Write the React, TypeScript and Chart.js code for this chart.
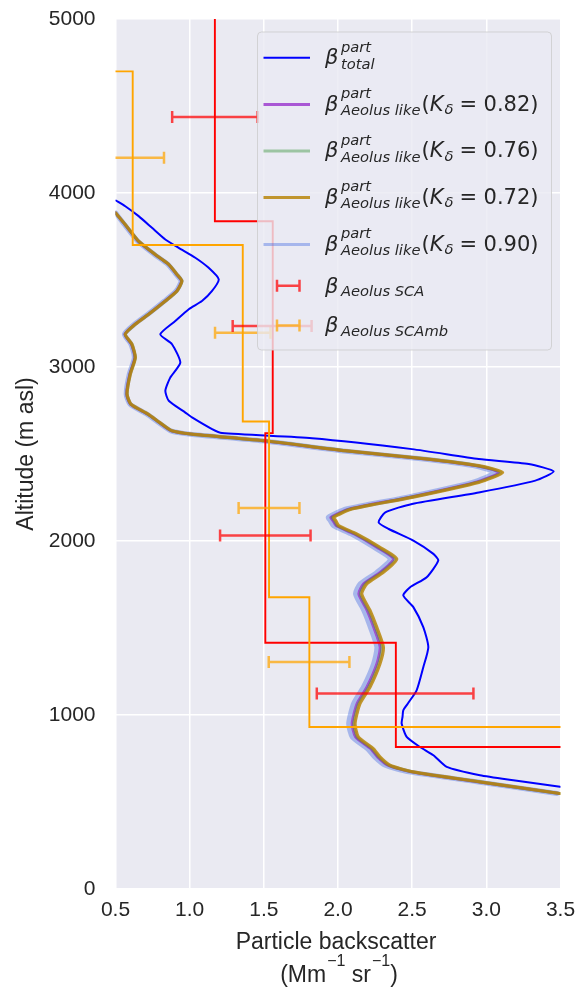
import React, { useEffect, useRef } from "react";
import { Chart, registerables } from "chart.js";

Chart.register(...registerables);

// ---------------- data ----------------
const X_TICK_LABELS = ["0.5", "1.0", "1.5", "2.0", "2.5", "3.0", "3.5"];
const Y_TICK_LABELS = ["0", "1000", "2000", "3000", "4000", "5000"];

// total particle backscatter (x) vs altitude (m asl)
const TOTAL_ALT = [
  3957, 3924, 3867, 3800, 3733, 3685, 3628, 3570, 3504, 3437, 3379, 3332, 3264, 3188, 3131, 3025, 2939, 2863,
  2806, 2738, 2710, 2643, 2620, 2591, 2528, 2471, 2442, 2400, 2347, 2279, 2213, 2165, 2107, 2069, 2002, 1926,
  1888, 1792, 1734, 1687, 1620, 1505, 1390, 1275, 1142, 1065, 1027, 989, 951, 874, 816, 769, 702, 654, 625, 587,
];
const TOTAL_BETA = [
  0.503, 0.566, 0.656, 0.746, 0.836, 0.926, 1.038, 1.128, 1.196, 1.151, 1.083, 0.994, 0.903, 0.802, 0.881, 0.937,
  0.869, 0.836, 0.859, 0.971, 1.016, 1.151, 1.218, 1.825, 2.499, 2.949, 3.286, 3.454, 3.33, 2.949, 2.499, 2.319,
  2.274, 2.342, 2.508, 2.643, 2.676, 2.598, 2.486, 2.44, 2.508, 2.575, 2.609, 2.575, 2.53, 2.47, 2.44, 2.435, 2.429,
  2.463, 2.553, 2.643, 2.733, 2.957, 3.182, 3.497,
];

// Aeolus-like profiles share one altitude grid
const AEOLUS_ALT = [
  3886, 3819, 3723, 3647, 3590, 3532, 3494, 3437, 3379, 3303, 3246, 3188, 3131, 3054, 2959, 2844, 2786, 2729, 2680,
  2633, 2614, 2576, 2519, 2471, 2433, 2394, 2337, 2251, 2184, 2136, 2117, 2088, 2041, 1964, 1897, 1820, 1754, 1696,
  1601, 1505, 1390, 1295, 1161, 1065, 951, 874, 807, 759, 711, 673, 616, 549,
];
const AEOLUS_K082 = [
  0.5, 0.563, 0.653, 0.765, 0.856, 0.912, 0.945, 0.912, 0.833, 0.721, 0.631, 0.563, 0.607, 0.63, 0.596, 0.575, 0.601,
  0.716, 0.796, 0.877, 1.01, 1.5, 2.035, 2.592, 2.928, 3.085, 2.925, 2.478, 2.074, 1.952, 1.966, 1.987, 2.107, 2.262,
  2.373, 2.284, 2.173, 2.14, 2.196, 2.24, 2.284, 2.262, 2.195, 2.128, 2.095, 2.118, 2.219, 2.266, 2.336, 2.495, 2.945,
  3.487,
];
const AEOLUS_K076 = [
  0.5, 0.565, 0.655, 0.767, 0.858, 0.914, 0.947, 0.914, 0.835, 0.723, 0.633, 0.565, 0.609, 0.632, 0.598, 0.577, 0.603,
  0.718, 0.798, 0.879, 1.013, 1.505, 2.042, 2.601, 2.939, 3.098, 2.937, 2.488, 2.084, 1.962, 1.976, 1.996, 2.117,
  2.273, 2.385, 2.295, 2.184, 2.15, 2.206, 2.251, 2.295, 2.273, 2.206, 2.138, 2.105, 2.128, 2.229, 2.275, 2.344,
  2.502, 2.951, 3.492,
];
const AEOLUS_K072 = [
  0.5, 0.566, 0.656, 0.768, 0.859, 0.915, 0.948, 0.915, 0.836, 0.724, 0.634, 0.566, 0.611, 0.634, 0.6, 0.578, 0.605,
  0.72, 0.8, 0.881, 1.016, 1.51, 2.049, 2.611, 2.949, 3.11, 2.949, 2.499, 2.094, 1.971, 1.985, 2.005, 2.126, 2.283,
  2.396, 2.306, 2.194, 2.16, 2.216, 2.261, 2.306, 2.283, 2.216, 2.148, 2.115, 2.137, 2.238, 2.283, 2.351, 2.508,
  2.957, 3.497,
];
const AEOLUS_K090 = [
  0.5, 0.56, 0.65, 0.762, 0.853, 0.909, 0.942, 0.909, 0.83, 0.718, 0.628, 0.56, 0.604, 0.627, 0.593, 0.572, 0.598,
  0.712, 0.792, 0.873, 1.004, 1.49, 2.02, 2.575, 2.91, 3.06, 2.905, 2.46, 2.055, 1.935, 1.948, 1.969, 2.088, 2.242,
  2.352, 2.262, 2.15, 2.118, 2.174, 2.218, 2.262, 2.24, 2.172, 2.105, 2.072, 2.096, 2.198, 2.247, 2.318, 2.48, 2.935,
  3.477,
];

// Aeolus SCA / SCA mid-bin step profiles (bin edges in m, value per bin)
const SCA_EDGES = [5200, 3838, 2620, 1415, 816, 0];
const SCA_VALUES = [1.17, 1.56, 1.51, 2.39, 3.8];
const SCAMB_EDGES = [5200, 4699, 3701, 2687, 1677, 931, 0];
const SCAMB_VALUES = [0.4, 0.616, 1.358, 1.535, 1.807, 3.8];

// error bars (altitude, centre, half-width)
const SCA_ERR_ALT = [4437, 3236, 2031, 1123];
const SCA_ERR_CENTER = [1.17, 1.556, 1.51, 2.385];
const SCA_ERR_HALF = [0.288, 0.266, 0.305, 0.528];
const SCAMB_ERR_ALT = [4202, 3197, 2190, 1304];
const SCAMB_ERR_CENTER = [0.616, 1.358, 1.535, 1.805];
const SCAMB_ERR_HALF = [0.211, 0.187, 0.205, 0.272];

const LEGEND_K = ["0.82", "0.76", "0.72", "0.90"];

// ---------------- styles ----------------
const C_TOTAL = "#0000ff";
const C_K082 = "rgba(153,50,204,0.8)";
const C_K076 = "rgba(40,140,40,0.4)";
const C_K072 = "rgba(184,134,11,0.85)";
const C_K090 = "rgba(65,105,225,0.4)";
const C_SCA = "#ff0000";
const C_SCAMB = "#ffa500";
const C_SCA_ERR = "rgba(255,0,0,0.72)";
const C_SCAMB_ERR = "rgba(255,165,0,0.72)";
const TEXT = "#262626";
const SANS = '"Liberation Sans", Arial, sans-serif';
const MATH = '"DejaVu Sans", sans-serif';

function toPoints(xs: number[], ys: number[]) {
  return xs.map((x, i) => ({ x, y: ys[i] }));
}
function stepPoints(values: number[], edges: number[]) {
  const pts: { x: number; y: number }[] = [];
  values.forEach((v, i) => {
    pts.push({ x: v, y: edges[i] });
    pts.push({ x: v, y: edges[i + 1] });
  });
  return pts;
}

function drawErrorBars(chart: any, alts: number[], centers: number[], halves: number[], color: string) {
  const ctx = chart.ctx;
  const xs = chart.scales.x;
  const ys = chart.scales.y;
  ctx.save();
  ctx.strokeStyle = color;
  ctx.lineWidth = 2.5;
  alts.forEach((a, i) => {
    const y = ys.getPixelForValue(a);
    const x0 = xs.getPixelForValue(centers[i] - halves[i]);
    const x1 = xs.getPixelForValue(centers[i] + halves[i]);
    ctx.beginPath();
    ctx.moveTo(x0, y);
    ctx.lineTo(x1, y);
    ctx.moveTo(x0, y - 6);
    ctx.lineTo(x0, y + 6);
    ctx.moveTo(x1, y - 6);
    ctx.lineTo(x1, y + 6);
    ctx.stroke();
  });
  ctx.restore();
}

function sampleLine(ctx: any, y: number, color: string, w: number) {
  ctx.save();
  ctx.strokeStyle = color;
  ctx.lineWidth = w;
  ctx.beginPath();
  ctx.moveTo(263.5, y);
  ctx.lineTo(310, y);
  ctx.stroke();
  ctx.restore();
}
function sampleErr(ctx: any, y: number, color: string) {
  ctx.save();
  ctx.strokeStyle = color;
  ctx.lineWidth = 2.5;
  ctx.beginPath();
  ctx.moveTo(277, y);
  ctx.lineTo(299.5, y);
  ctx.moveTo(277, y - 6);
  ctx.lineTo(277, y + 6);
  ctx.moveTo(299.5, y - 6);
  ctx.lineTo(299.5, y + 6);
  ctx.stroke();
  ctx.restore();
}

function drawLegend(ctx: any) {
  ctx.save();
  const bx = 257.5, by = 32, bw = 294, bh = 318, r = 4;
  ctx.beginPath();
  ctx.moveTo(bx + r, by);
  ctx.lineTo(bx + bw - r, by);
  ctx.quadraticCurveTo(bx + bw, by, bx + bw, by + r);
  ctx.lineTo(bx + bw, by + bh - r);
  ctx.quadraticCurveTo(bx + bw, by + bh, bx + bw - r, by + bh);
  ctx.lineTo(bx + r, by + bh);
  ctx.quadraticCurveTo(bx, by + bh, bx, by + bh - r);
  ctx.lineTo(bx, by + r);
  ctx.quadraticCurveTo(bx, by, bx + r, by);
  ctx.closePath();
  ctx.fillStyle = "rgba(234,234,242,0.8)";
  ctx.fill();
  ctx.strokeStyle = "rgba(204,204,204,0.8)";
  ctx.lineWidth = 1;
  ctx.stroke();

  ctx.fillStyle = TEXT;
  ctx.textAlign = "left";
  ctx.textBaseline = "alphabetic";
  const big = 21, small = 14.7;
  const bigIt = `italic ${big}px ${MATH}`;
  const bigUp = `${big}px ${MATH}`;
  const smIt = `italic ${small}px ${MATH}`;

  const rows = [57.7, 104.5, 151, 197.5, 244.5, 285.7, 325.5];

  // row 1: total
  let base = rows[0] + 6.3;
  sampleLine(ctx, rows[0], C_TOTAL, 2);
  ctx.fillStyle = TEXT;
  ctx.font = bigIt;
  ctx.fillText("β", 325, base);
  ctx.font = smIt;
  ctx.fillText("part", 341, base - 12.5);
  ctx.fillText("total", 341, base + 4.5);

  // rows 2-5: Aeolus like
  const aeColors = [C_K082, C_K076, C_K072, C_K090];
  const aeWidths = [3, 3, 3, 3];
  LEGEND_K.forEach((k, i) => {
    const cy = rows[i + 1];
    const b = cy + 6.3;
    sampleLine(ctx, cy, aeColors[i], aeWidths[i]);
    ctx.fillStyle = TEXT;
    ctx.font = bigIt;
    ctx.fillText("β", 325, b);
    ctx.font = smIt;
    ctx.fillText("part", 341, b - 12.5);
    const sub = "Aeolus like";
    ctx.fillText(sub, 341, b + 4.5);
    let x = 341 + ctx.measureText(sub).width + 1;
    ctx.font = bigUp;
    ctx.fillText("(", x, b);
    x += ctx.measureText("(").width;
    ctx.font = bigIt;
    ctx.fillText("K", x, b);
    x += ctx.measureText("K").width;
    ctx.font = smIt;
    ctx.fillText("δ", x + 1, b + 3.5);
    x += ctx.measureText("δ").width + 1;
    x += 6;
    ctx.font = bigUp;
    ctx.fillText("=", x, b);
    x += ctx.measureText("=").width + 6.5;
    ctx.fillText(k + ")", x, b);
  });

  // rows 6-7: error bar entries
  const errRows: [number, string, string][] = [
    [rows[5], C_SCA_ERR, "Aeolus SCA"],
    [rows[6], C_SCAMB_ERR, "Aeolus SCAmb"],
  ];
  errRows.forEach(([cy, col, sub]) => {
    const b = cy + 6.8;
    sampleErr(ctx, cy, col);
    ctx.fillStyle = TEXT;
    ctx.font = bigIt;
    ctx.fillText("β", 325, b);
    ctx.font = smIt;
    ctx.fillText(sub, 341, b + 3.2);
  });
  ctx.restore();
}

function drawAxisTitles(ctx: any) {
  ctx.save();
  ctx.fillStyle = TEXT;
  // y title
  ctx.save();
  ctx.translate(27, 454);
  ctx.rotate(-Math.PI / 2);
  ctx.textAlign = "center";
  ctx.textBaseline = "middle";
  ctx.font = `23px ${SANS}`;
  ctx.fillText("Altitude (m asl)", 0, 0);
  ctx.restore();

  // x title, line 1
  ctx.textAlign = "center";
  ctx.textBaseline = "alphabetic";
  ctx.font = `23px ${SANS}`;
  ctx.fillText("Particle backscatter", 336, 948.5);

  // x title, line 2 with superscripts
  const parts: [string, boolean][] = [
    ["(Mm", false],
    ["−1", true],
    [" sr", false],
    ["−1", true],
    [")", false],
  ];
  const bigF = `23px ${SANS}`;
  const supF = `16px ${SANS}`;
  let total = 0;
  parts.forEach(([t, sup]) => {
    ctx.font = sup ? supF : bigF;
    total += ctx.measureText(t).width + (sup ? 1 : 0);
  });
  let x = 339 - total / 2;
  ctx.textAlign = "left";
  parts.forEach(([t, sup]) => {
    ctx.font = sup ? supF : bigF;
    ctx.fillText(t, x + (sup ? 1 : 0), sup ? 966 : 981.5);
    x += ctx.measureText(t).width + (sup ? 1 : 0);
  });
  ctx.restore();
}

const overlayPlugin = {
  id: "overlay",
  beforeDraw(chart: any) {
    const { ctx, chartArea } = chart;
    ctx.save();
    ctx.fillStyle = "#eaeaf2";
    ctx.fillRect(chartArea.left, chartArea.top, chartArea.right - chartArea.left, chartArea.bottom - chartArea.top);
    ctx.restore();
  },
  afterDatasetsDraw(chart: any) {
    const { ctx, chartArea } = chart;
    ctx.save();
    ctx.beginPath();
    ctx.rect(chartArea.left, chartArea.top, chartArea.right - chartArea.left, chartArea.bottom - chartArea.top);
    ctx.clip();
    drawErrorBars(chart, SCAMB_ERR_ALT, SCAMB_ERR_CENTER, SCAMB_ERR_HALF, C_SCAMB_ERR);
    drawErrorBars(chart, SCA_ERR_ALT, SCA_ERR_CENTER, SCA_ERR_HALF, C_SCA_ERR);
    ctx.restore();
    drawLegend(ctx);
  },
  afterDraw(chart: any) {
    drawAxisTitles(chart.ctx);
  },
};

export default function App() {
  const ref = useRef<HTMLCanvasElement | null>(null);

  useEffect(() => {
    if (!ref.current) return;
    const curve = (data: any, color: string, width: number) => ({
      data,
      showLine: true,
      borderColor: color,
      backgroundColor: color,
      borderWidth: width,
      pointRadius: 0,
      tension: 0.2,
      borderJoinStyle: "round",
      borderCapStyle: "round",
      fill: false,
    });
    const step = (data: any, color: string) => ({
      data,
      showLine: true,
      borderColor: color,
      backgroundColor: color,
      borderWidth: 1.9,
      pointRadius: 0,
      tension: 0,
      fill: false,
    });

    const chart = new Chart(ref.current, {
      type: "scatter",
      data: {
        datasets: [
          step(stepPoints(SCAMB_VALUES, SCAMB_EDGES), C_SCAMB),
          step(stepPoints(SCA_VALUES, SCA_EDGES), C_SCA),
          curve(toPoints(AEOLUS_K072, AEOLUS_ALT), C_K072, 3.2),
          curve(toPoints(AEOLUS_K076, AEOLUS_ALT), C_K076, 3),
          curve(toPoints(AEOLUS_K082, AEOLUS_ALT), C_K082, 2.8),
          curve(toPoints(AEOLUS_K090, AEOLUS_ALT), C_K090, 5),
          curve(toPoints(TOTAL_BETA, TOTAL_ALT), C_TOTAL, 2),
        ] as any,
      },
      options: {
        animation: false,
        responsive: false,
        devicePixelRatio: 1,
        layout: { padding: { left: 0, right: 16.5, top: 19, bottom: 0 } },
        plugins: { legend: { display: false }, tooltip: { enabled: false } },
        events: [],
        scales: {
          x: {
            type: "linear",
            min: 0.5,
            max: 3.5,
            border: { display: false },
            grid: { color: "#ffffff", lineWidth: 1.5, drawTicks: false },
            ticks: {
              stepSize: 0.5,
              padding: 9,
              color: TEXT,
              font: { family: SANS, size: 21 },
              callback: (_v: any, i: number) => X_TICK_LABELS[i],
            },
            afterFit: (s: any) => {
              s.height = 103;
              s.paddingLeft = 0;
              s.paddingRight = 0;
              s.paddingTop = 0;
              s.paddingBottom = 0;
            },
          },
          y: {
            type: "linear",
            min: 0,
            max: 5000,
            border: { display: false },
            grid: { color: "#ffffff", lineWidth: 1.5, drawTicks: false },
            ticks: {
              stepSize: 1000,
              padding: 20,
              color: TEXT,
              font: { family: SANS, size: 21 },
              callback: (_v: any, i: number) => Y_TICK_LABELS[i],
            },
            afterFit: (s: any) => {
              s.width = 115.5;
              s.paddingLeft = 0;
              s.paddingRight = 0;
              s.paddingTop = 0;
              s.paddingBottom = 0;
            },
          },
        },
      } as any,
      plugins: [overlayPlugin],
    });
    return () => chart.destroy();
  }, []);

  return (
    <div style={{ position: "absolute", left: 0, top: 0, width: 577, height: 992 }}>
      <canvas ref={ref} width={577} height={992} style={{ display: "block", width: 577, height: 992 }} />
    </div>
  );
}
